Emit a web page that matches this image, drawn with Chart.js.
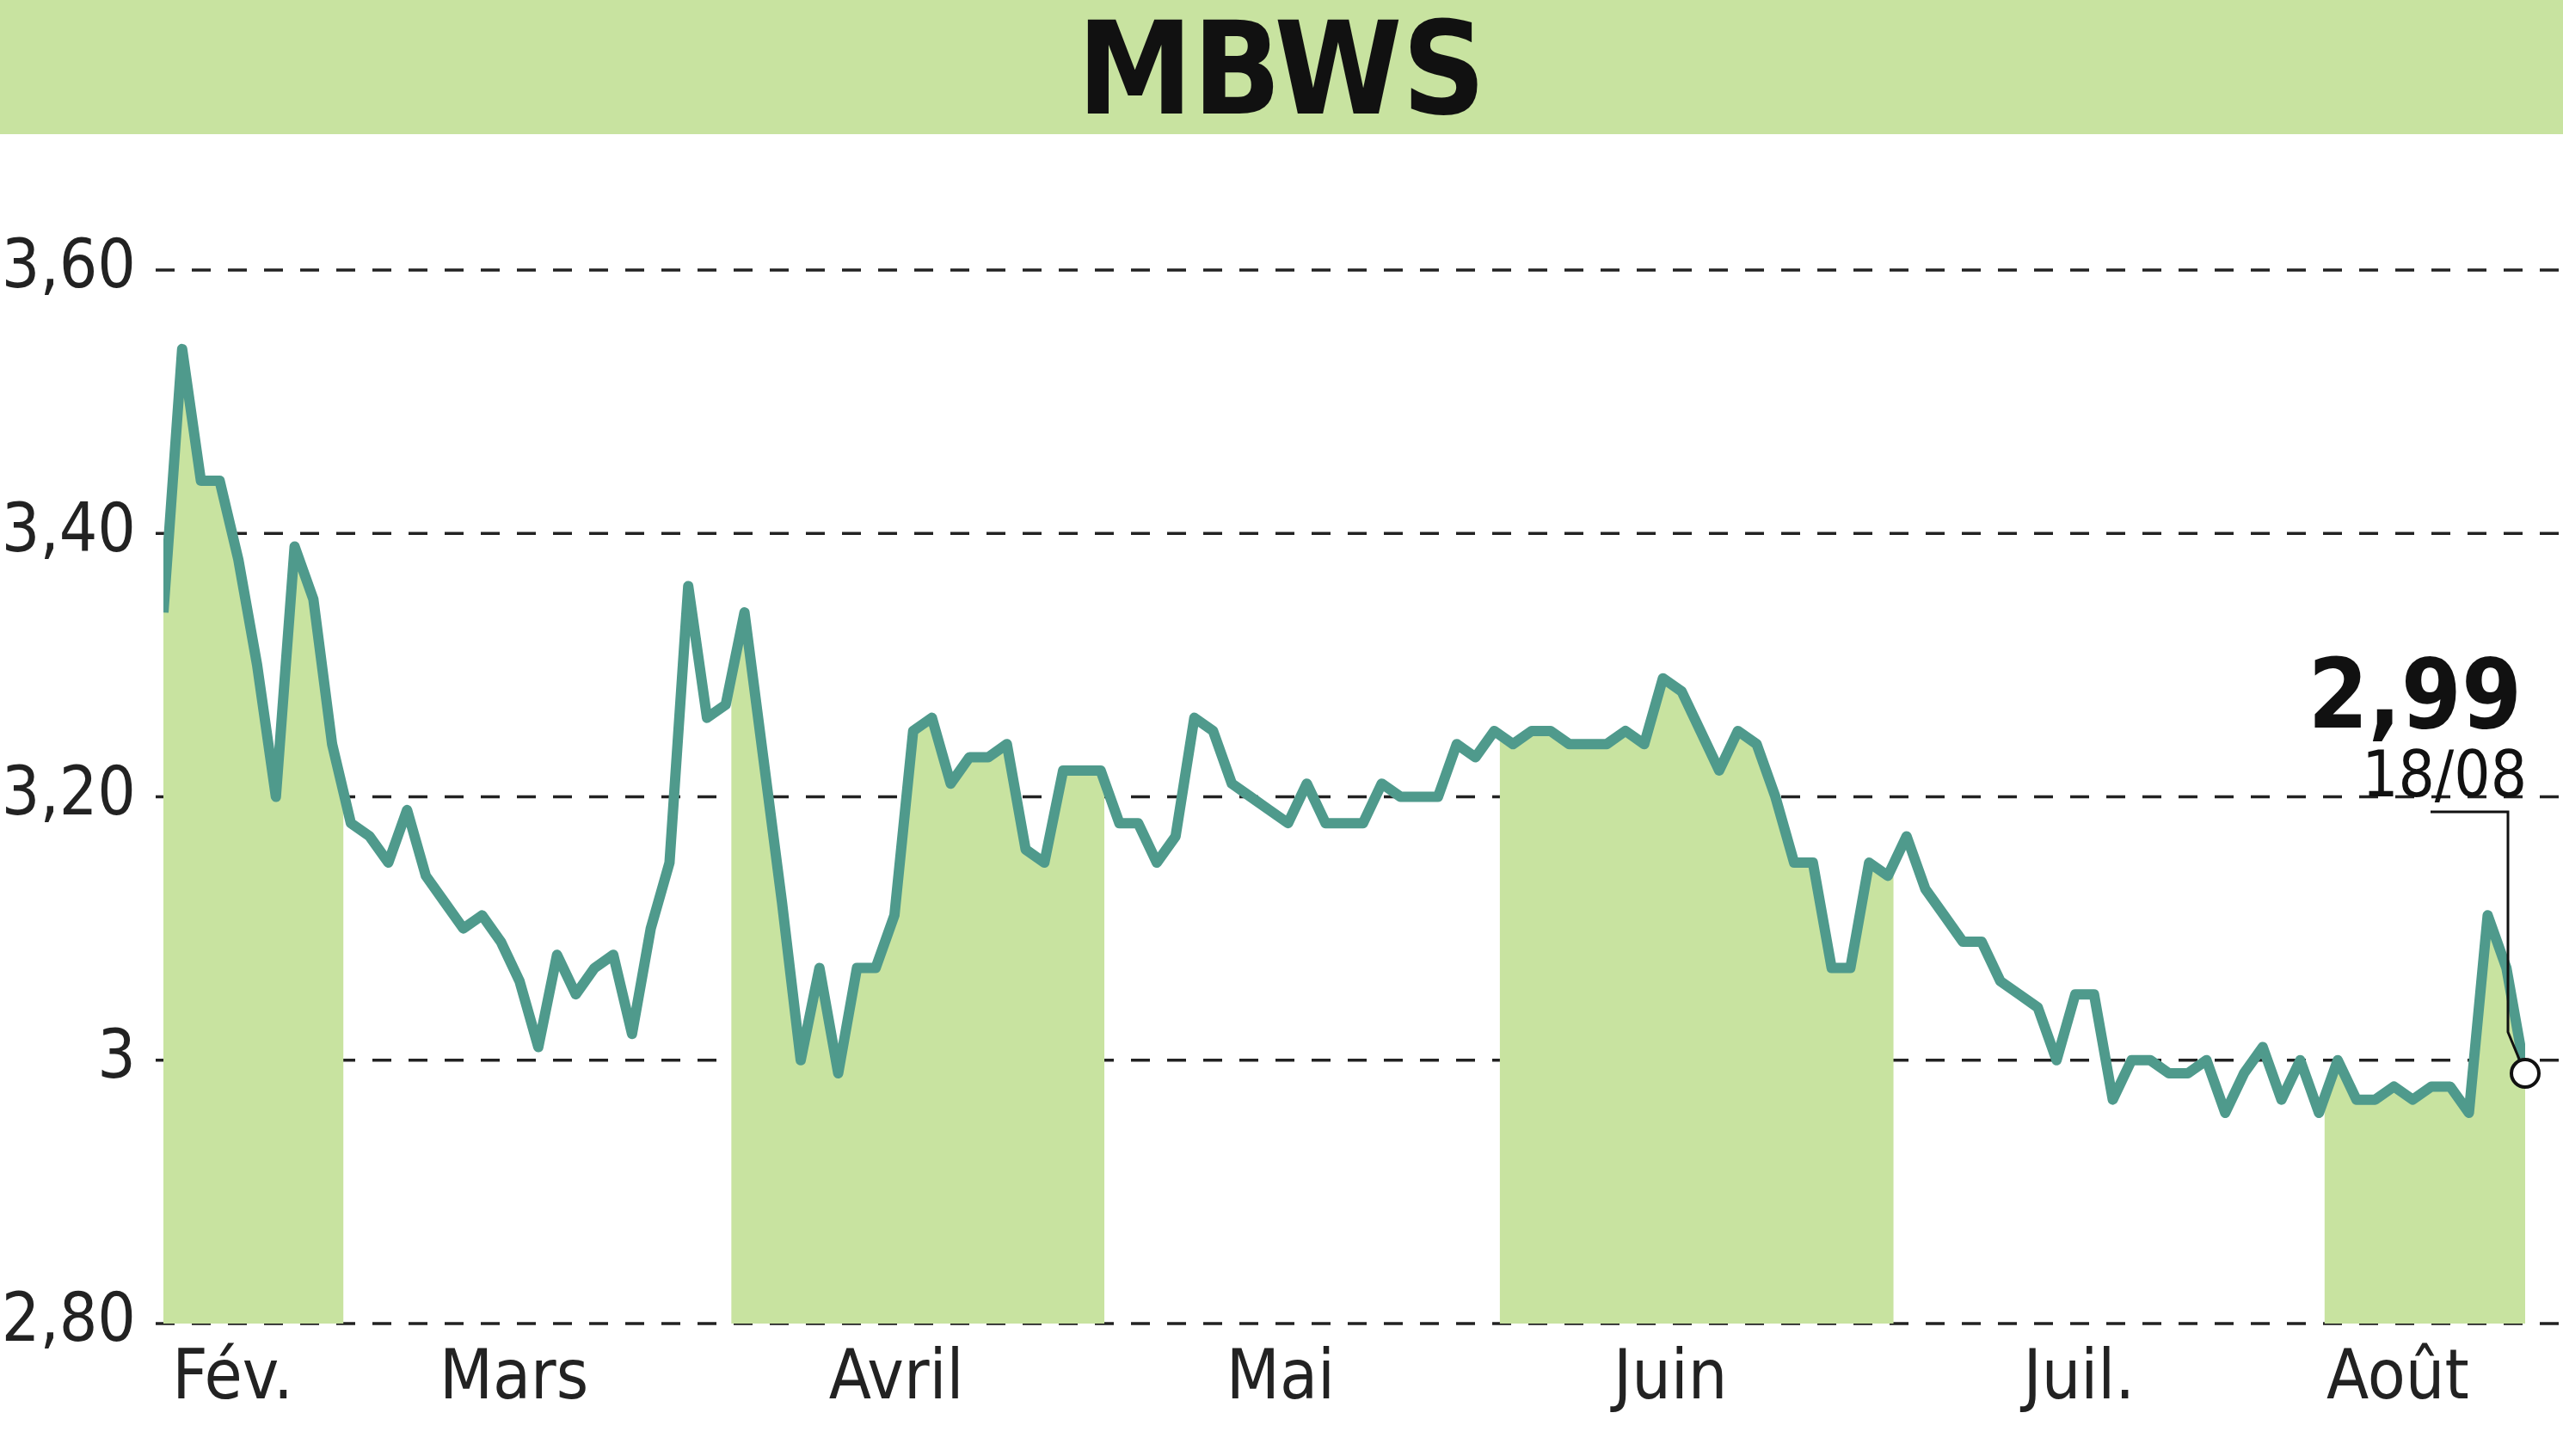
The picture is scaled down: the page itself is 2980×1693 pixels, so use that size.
<!DOCTYPE html>
<html><head><meta charset="utf-8">
<script src="https://cdn.jsdelivr.net/npm/chart.js@4"></script>
<style>
html,body{margin:0;padding:0;background:#fff;width:2980px;height:1693px;overflow:hidden}
#hdr{position:absolute;left:0;top:0;width:2980px;height:156px;background:#c8e3a0;text-align:center;font-family:"DejaVu Sans";font-weight:bold;font-stretch:condensed;font-size:150px;line-height:160px;color:#111}
#wrap{position:absolute;left:0;top:0;width:2980px;height:1693px}
</style></head><body>
<div id="wrap"><canvas id="c" width="2980" height="1693"></canvas></div>
<div id="hdr">MBWS</div>
<script>
const prices=[3.34,3.54,3.44,3.44,3.38,3.30,3.20,3.39,3.35,3.24,3.18,3.17,3.15,3.19,3.14,3.12,3.10,3.11,3.09,3.06,3.01,3.08,3.05,3.07,3.08,3.02,3.10,3.15,3.36,3.26,3.27,3.34,3.23,3.12,3.00,3.07,2.99,3.07,3.07,3.11,3.25,3.26,3.21,3.23,3.23,3.24,3.16,3.15,3.22,3.22,3.22,3.18,3.18,3.15,3.17,3.26,3.25,3.21,3.20,3.19,3.18,3.21,3.18,3.18,3.18,3.21,3.20,3.20,3.20,3.24,3.23,3.25,3.24,3.25,3.25,3.24,3.24,3.24,3.25,3.24,3.29,3.28,3.25,3.22,3.25,3.24,3.20,3.15,3.15,3.07,3.07,3.15,3.14,3.17,3.13,3.11,3.09,3.09,3.06,3.05,3.04,3.00,3.05,3.05,2.97,3.00,3.00,2.99,2.99,3.00,2.96,2.99,3.01,2.97,3.00,2.96,3.00,2.97,2.97,2.98,2.97,2.98,2.98,2.96,3.11,3.07,2.99];
const monthLabels=["Fév.","Mars","Avril","Mai","Juin","Juil.","Août"];
const monthPos=[3.7,18.7,39.1,59.6,80.4,102.2,119.2];
const bands=[[0,9.6],[30.3,50.2],[71.3,92.3],[115.3,126]];
const yTicks=[2.8,3.0,3.2,3.4,3.6];
const lastLabel="2,99", lastDate="18/08";
const pts=prices.map((v,i)=>({x:i,y:v}));
const FONT='"Liberation Sans Narrow","DejaVu Sans Condensed",sans-serif';
const bandFill={id:'bandFill',beforeDatasetsDraw(ch){const c=ch.ctx,x=ch.scales.x,ar=ch.chartArea,d=ch.getDatasetMeta(0).data;
 c.save();c.beginPath();
 bands.forEach(b=>{const l=x.getPixelForValue(b[0]),r=x.getPixelForValue(b[1]);c.rect(l,ar.top-50,r-l,ar.bottom-ar.top+50);});c.clip();
 c.beginPath();c.moveTo(d[0].x,ar.bottom);d.forEach(p=>c.lineTo(p.x,p.y));c.lineTo(d[d.length-1].x,ar.bottom);c.closePath();
 c.fillStyle='#c8e3a0';c.fill();c.restore();}};
const grid={id:'grid',beforeDatasetsDraw(ch){const c=ch.ctx,y=ch.scales.y;c.save();c.strokeStyle='#222';c.lineWidth=3.5;c.setLineDash([22,20]);
 yTicks.forEach(t=>{const p=y.getPixelForValue(t);c.beginPath();c.moveTo(181,p);c.lineTo(2980,p);c.stroke();});c.restore();}};
const annot={id:'annot',afterDatasetsDraw(ch){const c=ch.ctx,m=ch.getDatasetMeta(0),p=m.data[m.data.length-1];c.save();
 c.strokeStyle='#111';c.lineWidth=3;c.beginPath();c.moveTo(2826,944);c.lineTo(2916,944);c.lineTo(2916,1200);c.lineTo(p.x,p.y);c.stroke();
 c.fillStyle='#fff';c.lineWidth=4;c.beginPath();c.arc(p.x,p.y,16,0,Math.PI*2);c.fill();c.stroke();
 c.fillStyle='#111';c.textAlign='right';c.textBaseline='alphabetic';c.font='bold 112px '+FONT;c.fillText(lastLabel,2932,846);
 c.font='74px '+FONT;c.fillText(lastDate,2938,926);c.restore();}};
new Chart(document.getElementById('c'),{type:'line',
 data:{datasets:[
  {data:pts,fill:false,borderColor:'#4f9a8c',borderWidth:12,pointRadius:0,tension:0,borderJoinStyle:'round'}]},
 options:{responsive:false,animation:false,events:[],
  layout:{padding:{top:314,right:44,left:0,bottom:0}},
  plugins:{legend:{display:false},tooltip:{enabled:false}},
  scales:{
   x:{type:'linear',min:0,max:126,grid:{display:false},border:{display:false},
    afterFit(s){s.height=154;},
    afterBuildTicks(s){s.ticks=monthPos.map(v=>({value:v}));},
    ticks:{autoSkip:false,maxRotation:0,padding:10,color:'#222',font:{family:FONT,size:80},callback:(v,i)=>monthLabels[i]}},
   y:{min:2.8,max:3.6,grid:{display:false},border:{display:false},
    afterFit(s){s.width=190;},
    afterBuildTicks(s){s.ticks=yTicks.map(v=>({value:v}));},
    ticks:{padding:24,color:'#222',font:{family:FONT,size:78},callback:v=>v===3?'3':v.toFixed(2).replace('.',',')}}}},
 plugins:[grid,bandFill,annot]});
</script></body></html>
